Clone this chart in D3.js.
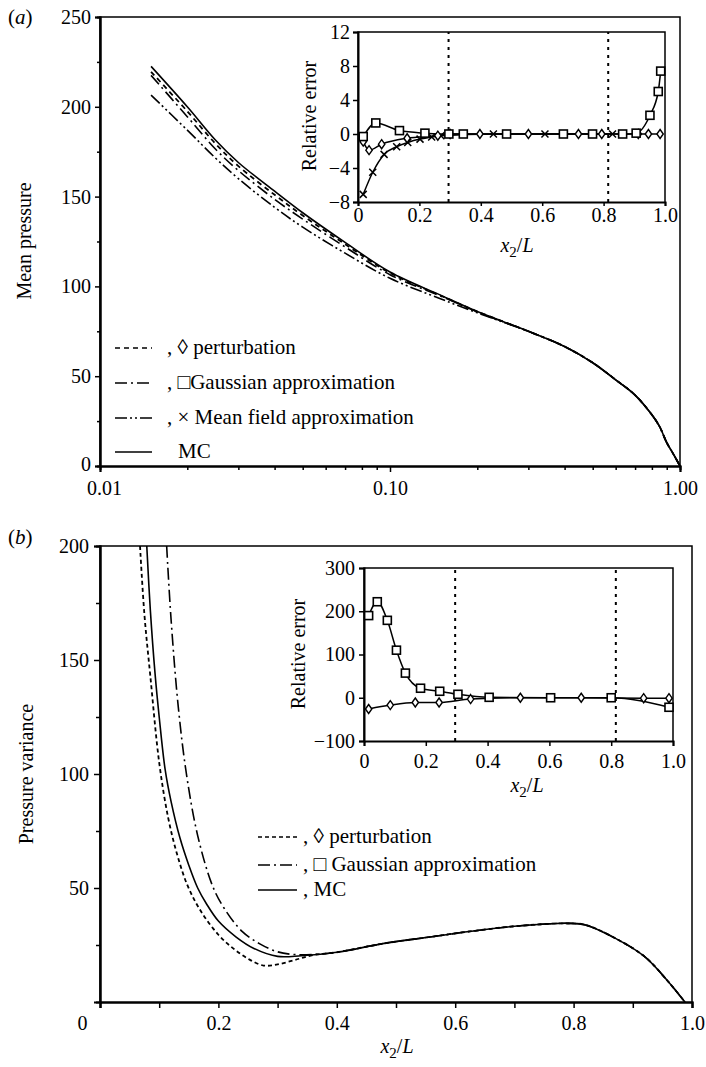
<!DOCTYPE html>
<html><head><meta charset="utf-8">
<script src="https://cdn.jsdelivr.net/npm/d3@7"></script>
<style>
body{margin:0;background:#fff}
</style></head><body>
<svg id="c" width="706" height="1067" font-family="Liberation Serif" style="font-family:'Liberation Serif'"></svg>
<script>
// ---------- Panel (a): mean pressure vs x2/L (log axis) ----------
const mcA    = [[0.015,222.5],[0.02,200],[0.025,181.5],[0.03,169],[0.04,153],[0.05,141],[0.07,124.5],[0.1,108],[0.15,95],[0.2,86],[0.3,75],[0.4,66.5],[0.5,57.5],[0.6,48],[0.7,39.5],[0.8,28.5],[0.85,22],[0.9,13],[0.95,6.5],[1.0,0]];
const pertA  = [[0.015,219.5],[0.02,197.5],[0.025,179.5],[0.03,167],[0.04,151],[0.05,139.5],[0.07,123.5],[0.1,107.5],[0.15,94.8],[0.2,86],[0.3,75],[0.4,66.5],[0.5,57.5],[0.6,48],[0.7,39.5],[0.8,28.5],[0.85,22],[0.9,13],[0.95,6.5],[1.0,0]];
const gaussA = [[0.015,217.5],[0.02,194.5],[0.025,176.5],[0.03,164.5],[0.04,148.5],[0.05,137.5],[0.07,122],[0.1,106.5],[0.15,94.5],[0.2,85.8],[0.3,75],[0.4,66.5],[0.5,57.5],[0.6,48],[0.7,39.5],[0.8,28.5],[0.85,22],[0.9,13],[0.95,6.5],[1.0,0]];
const mfA    = [[0.015,206.5],[0.02,187],[0.025,171.5],[0.03,160],[0.04,144],[0.05,133],[0.07,118.5],[0.1,104.5],[0.15,93],[0.2,85.3],[0.3,75],[0.4,66.5],[0.5,57.5],[0.6,48],[0.7,39.5],[0.8,28.5],[0.85,22],[0.9,13],[0.95,6.5],[1.0,0]];
const xTicksA = [0.01,0.1,1];
const xTickLabelsA = ["0.01","0.10","1.00"];
const yTicksA = [0,50,100,150,200,250];
const yMinorA = [25,75,125,175,225];

// inset (a): relative error
const gaussErrA = [[0.017,-0.3],[0.058,1.3],[0.135,0.4],[0.218,0.1],[0.296,0],[0.343,0],[0.484,0],[0.669,0],[0.764,0],[0.862,0],[0.906,0.1],[0.951,2.2],[0.978,5.0],[0.986,7.4]];
const pertErrA  = [[0.017,-0.9],[0.036,-1.9],[0.077,-1.2],[0.16,-0.5],[0.26,-0.2],[0.3,0],[0.397,0],[0.555,0],[0.718,0],[0.794,0],[0.913,0],[0.946,0],[0.984,0]];
const mfErrA    = [[0.017,-7.1],[0.048,-4.5],[0.085,-2.4],[0.126,-1.5],[0.162,-1.0],[0.202,-0.6],[0.24,-0.35],[0.27,-0.2],[0.441,0],[0.609,0],[0.829,0]];
const yTicksAi = [-8,-4,0,4,8,12];
const xTicksInset = [0,0.2,0.4,0.6,0.8,1.0];
const xTickLabelsInset = ["0","0.2","0.4","0.6","0.8","1.0"];
const dottedX = [0.295,0.815];

// ---------- Panel (b): pressure variance ----------
const mcB    = [[0.079,200],[0.085,172],[0.093,144],[0.1,125],[0.11,102],[0.12,88],[0.135,72],[0.15,60],[0.165,50],[0.18,43],[0.2,35.5],[0.23,28.5],[0.26,23.5],[0.3,20],[0.34,20.3],[0.4,21.8],[0.48,25.7],[0.56,28.6],[0.62,30.8],[0.7,33.2],[0.79,34.5],[0.82,33.8],[0.87,28],[0.92,19.9],[0.96,8.9],[0.988,0]];
const pertB  = [[0.0676,200],[0.075,170],[0.085,143],[0.1,105],[0.115,81],[0.13,65],[0.148,51],[0.17,40],[0.2,29.5],[0.225,23.5],[0.25,19],[0.276,16],[0.3,16.5],[0.33,18.5],[0.36,20.6],[0.4,21.8],[0.48,25.7],[0.56,28.6],[0.62,30.8],[0.7,33.2],[0.79,34.5],[0.82,33.8],[0.87,28],[0.92,19.9],[0.96,8.9],[0.988,0]];
const gaussB = [[0.1126,200],[0.12,168],[0.132,130],[0.146,100],[0.165,73],[0.19,51],[0.21,41],[0.24,31],[0.27,25.5],[0.3,22],[0.33,20.8],[0.37,21],[0.4,21.8],[0.48,25.7],[0.56,28.6],[0.62,30.8],[0.7,33.2],[0.79,34.5],[0.82,33.8],[0.87,28],[0.92,19.9],[0.96,8.9],[0.988,0]];
const xTicksB = [0,0.2,0.4,0.6,0.8,1.0];
const xTickLabelsB = ["0","0.2","0.4","0.6","0.8","1.0"];
const xMinorB = [0.1,0.3,0.5,0.7,0.9];
const yTicksB = [50,100,150,200];
const yMinorB = [25,75,125,175];

// inset (b)
const gaussErrB = [[0.015,190],[0.043,222],[0.0755,179],[0.105,110],[0.134,57],[0.183,22],[0.245,15],[0.304,8],[0.405,1],[0.604,0],[0.8,0],[0.987,-22]];
const pertErrB  = [[0.015,-26],[0.085,-17],[0.166,-11],[0.243,-11],[0.345,-3],[0.506,0],[0.703,0],[0.905,-1],[0.987,-1]];
const yTicksBi = [-100,0,100,200,300];

const legendA = [
  {dash:"5,4", text:", \u25CA perturbation", x:167},
  {dash:"12,4,2,4", text:", \u25A1Gaussian approximation", x:167},
  {dash:"12,3,2,3,2,3", text:", \u00D7 Mean field approximation", x:167},
  {dash:null, text:"MC", x:178}
];
const legendB = [
  {dash:"4,3", text:", \u25CA perturbation"},
  {dash:"12,4,2,4", text:", \u25A1 Gaussian approximation"},
  {dash:null, text:", MC"}
];

// ---------- drawing ----------
const FONT = "'Liberation Serif','Times New Roman','DejaVu Serif',serif";
const svg = d3.select("#c");
svg.append("rect").attr("width",706).attr("height",1067).attr("fill","#fff");
const FS = 20;

function txt(sel){ return sel.attr("font-family",FONT).attr("fill","#000"); }
function styleAxis(g, sw){
  g.attr("font-family",FONT).attr("font-size",FS);
  g.select(".domain").attr("stroke","#000").attr("stroke-width",sw||2);
  g.selectAll(".tick line").attr("stroke","#000").attr("stroke-width",1.5);
  g.selectAll(".tick text").attr("fill","#000").attr("font-family",FONT);
}
function frame(x0,y0,x1,y1,sw){
  svg.append("path").attr("d",`M${x0},${y1}V${y0}H${x1}V${y1}`).attr("fill","none").attr("stroke","#000").attr("stroke-width",sw);
}
function xLabel(cx, y){
  const t = txt(svg.append("text")).attr("x",cx).attr("y",y).attr("text-anchor","middle").attr("font-size",FS);
  t.append("tspan").attr("font-style","italic").text("x");
  t.append("tspan").attr("font-size",15).attr("dy",5).text("2");
  t.append("tspan").attr("dy",-5).text("/");
  t.append("tspan").attr("font-style","italic").text("L");
}
function yLabel(x, cy, s){
  txt(svg.append("text")).attr("transform",`translate(${x},${cy}) rotate(-90)`).attr("text-anchor","middle").attr("font-size",FS).text(s);
}
function addLine(g, data, xs, ys, dash, w, curve){
  g.append("path").datum(data)
    .attr("d", d3.line().x(d=>xs(d[0])).y(d=>ys(d[1])).curve(curve||d3.curveMonotoneX))
    .attr("fill","none").attr("stroke","#000").attr("stroke-width",w)
    .attr("stroke-dasharray",dash);
}
function markers(g, data, xs, ys, type){
  const s = g.selectAll(null).data(data).enter();
  if(type==="square"){
    s.append("rect").attr("x",d=>xs(d[0])-4).attr("y",d=>ys(d[1])-4).attr("width",8).attr("height",8)
      .attr("fill","#fff").attr("stroke","#000").attr("stroke-width",1.6);
  } else if(type==="diamond"){
    s.append("path").attr("d",d=>{const x=xs(d[0]),y=ys(d[1]);return `M${x},${y-4.5}L${x+3.2},${y}L${x},${y+4.5}L${x-3.2},${y}Z`;})
      .attr("fill","#fff").attr("stroke","#000").attr("stroke-width",1.4);
  } else {
    s.append("path").attr("d",d=>{const x=xs(d[0]),y=ys(d[1]);return `M${x-3.5},${y-3.5}L${x+3.5},${y+3.5}M${x-3.5},${y+3.5}L${x+3.5},${y-3.5}`;})
      .attr("fill","none").attr("stroke","#000").attr("stroke-width",1.5);
  }
}

// ===== Panel (a) =====
const xA = d3.scaleLog().domain([0.01,1]).range([100,680]);
const yA = d3.scaleLinear().domain([0,250]).range([466,17]);
frame(100,17,680,466,1.5);
const minorXA = [];
[0.01,0.1].forEach(b=>{for(let k=2;k<=9;k++) minorXA.push(b*k);});
let g = svg.append("g").attr("transform","translate(0,466)")
  .call(d3.axisBottom(xA).tickValues(minorXA).tickSize(4).tickFormat(""));
styleAxis(g);
g = svg.append("g").attr("transform","translate(0,466)")
  .call(d3.axisBottom(xA).tickValues(xTicksA).tickSize(6).tickPadding(9).tickFormat((d,i)=>xTickLabelsA[i]));
styleAxis(g);
g.selectAll(".tick text").filter(d=>d===0.01).attr("dx",4);
g = svg.append("g").attr("transform","translate(100,0)")
  .call(d3.axisLeft(yA).tickValues(yMinorA).tickSize(3).tickFormat(""));
styleAxis(g);
g = svg.append("g").attr("transform","translate(100,0)")
  .call(d3.axisLeft(yA).tickValues(yTicksA).tickSize(5).tickPadding(4));
styleAxis(g);
g.selectAll(".tick text").filter(d=>d===0).attr("dy","0.2em");
yLabel(31,241,"Mean pressure");

const pA = svg.append("g");
const cA = d3.curveCatmullRom;
addLine(pA, mfA, xA, yA, "12,3,2,3,2,3", 1.6, cA);
addLine(pA, gaussA, xA, yA, "12,4,2,4", 1.6, cA);
addLine(pA, pertA, xA, yA, "5,4", 1.8, cA);
addLine(pA, mcA, xA, yA, null, 1.6, cA);

// legend (a)
const legYA = [348,383,418,452];
legendA.forEach((L,i)=>{
  svg.append("line").attr("x1",115).attr("x2",152).attr("y1",legYA[i]).attr("y2",legYA[i])
    .attr("stroke","#000").attr("stroke-width",1.6).attr("stroke-dasharray",L.dash);
  txt(svg.append("text")).attr("x",L.x).attr("y",legYA[i]+6).attr("font-size",FS+1).text(L.text);
});

// inset (a)
const xAi = d3.scaleLinear().domain([0,1]).range([358,665]);
const yAi = d3.scaleLinear().domain([-8,12]).range([202,32]);
svg.append("rect").attr("x",358).attr("y",32).attr("width",307).attr("height",170).attr("fill","#fff");
frame(358,32,665,202,1.5);
dottedX.forEach(v=>svg.append("line").attr("x1",xAi(v)).attr("x2",xAi(v)).attr("y1",202).attr("y2",32)
  .attr("stroke","#000").attr("stroke-width",2).attr("stroke-dasharray","3,5"));
g = svg.append("g").attr("transform","translate(0,202)")
  .call(d3.axisBottom(xAi).tickValues(xTicksInset).tickSize(4).tickPadding(2).tickFormat((d,i)=>xTickLabelsInset[i]));
styleAxis(g);
g = svg.append("g").attr("transform","translate(358,0)")
  .call(d3.axisLeft(yAi).tickValues(yTicksAi).tickSize(5).tickPadding(3).tickFormat(d=>d<0?"\u2212"+Math.abs(d):d));
styleAxis(g);
yLabel(316,116,"Relative error");
xLabel(517,252);
const iA = svg.append("g");
addLine(iA, mfErrA, xAi, yAi, null, 1.5);
addLine(iA, pertErrA, xAi, yAi, null, 1.5);
addLine(iA, gaussErrA, xAi, yAi, null, 1.5);
markers(iA, mfErrA, xAi, yAi, "cross");
markers(iA, pertErrA, xAi, yAi, "diamond");
markers(iA, gaussErrA, xAi, yAi, "square");

// panel tag (a)
const ta = txt(svg.append("text")).attr("x",8).attr("y",24).attr("font-size",FS+1);
ta.append("tspan").text("(");ta.append("tspan").attr("font-style","italic").text("a");ta.append("tspan").text(")");

// ===== Panel (b) =====
const xB = d3.scaleLinear().domain([0,1]).range([100,692]);
const yB = d3.scaleLinear().domain([0,200]).range([1002,546]);
frame(100,546,692,1002,1.5);
g = svg.append("g").attr("transform","translate(0,1002)")
  .call(d3.axisBottom(xB).tickValues(xMinorB).tickSize(6).tickFormat(""));
styleAxis(g);
g = svg.append("g").attr("transform","translate(0,1002)")
  .call(d3.axisBottom(xB).tickValues(xTicksB).tickSize(6).tickPadding(8).tickFormat((d,i)=>xTickLabelsB[i]));
styleAxis(g);
g.selectAll(".tick text").filter(d=>d===0).attr("dx",-18);
g = svg.append("g").attr("transform","translate(100,0)")
  .call(d3.axisLeft(yB).tickValues(yMinorB).tickSize(4).tickFormat(""));
styleAxis(g);
g = svg.append("g").attr("transform","translate(100,0)")
  .call(d3.axisLeft(yB).tickValues(yTicksB).tickSize(6).tickPadding(5));
styleAxis(g);
yLabel(33,774,"Pressure variance");
xLabel(397,1053);

svg.append("clipPath").attr("id","clipB").append("rect").attr("x",100).attr("y",546).attr("width",592).attr("height",456);
const pB = svg.append("g").attr("clip-path","url(#clipB)");
const cB = d3.curveCatmullRom;
addLine(pB, pertB, xB, yB, "4,3", 1.8, cB);
addLine(pB, gaussB, xB, yB, "12,4,2,4", 1.6, cB);
addLine(pB, mcB, xB, yB, null, 1.6, cB);

// legend (b)
const legYB = [837,865,890];
legendB.forEach((L,i)=>{
  svg.append("line").attr("x1",258).attr("x2",297).attr("y1",legYB[i]).attr("y2",legYB[i])
    .attr("stroke","#000").attr("stroke-width",1.6).attr("stroke-dasharray",L.dash);
  txt(svg.append("text")).attr("x",303).attr("y",legYB[i]+6).attr("font-size",FS+1).text(L.text);
});

// inset (b)
const xBi = d3.scaleLinear().domain([0,1]).range([364,673]);
const yBi = d3.scaleLinear().domain([-100,300]).range([741,568]);
svg.append("rect").attr("x",364).attr("y",568).attr("width",309).attr("height",173).attr("fill","#fff");
frame(364,568,673,741,1.5);
dottedX.forEach(v=>svg.append("line").attr("x1",xBi(v)).attr("x2",xBi(v)).attr("y1",741).attr("y2",568)
  .attr("stroke","#000").attr("stroke-width",2).attr("stroke-dasharray","3,5"));
g = svg.append("g").attr("transform","translate(0,741)")
  .call(d3.axisBottom(xBi).tickValues(xTicksInset).tickSize(5).tickPadding(8).tickFormat((d,i)=>xTickLabelsInset[i]));
styleAxis(g);
g = svg.append("g").attr("transform","translate(364,0)")
  .call(d3.axisLeft(yBi).tickValues(yTicksBi).tickSize(5).tickPadding(4).tickFormat(d=>d<0?"\u2212"+Math.abs(d):d));
styleAxis(g);
yLabel(305,654,"Relative error");
xLabel(527,792);
const iB = svg.append("g");
addLine(iB, pertErrB, xBi, yBi, null, 1.5);
addLine(iB, gaussErrB, xBi, yBi, null, 1.5);
markers(iB, pertErrB, xBi, yBi, "diamond");
markers(iB, gaussErrB, xBi, yBi, "square");

const tb = txt(svg.append("text")).attr("x",8).attr("y",544).attr("font-size",FS+1);
tb.append("tspan").text("(");tb.append("tspan").attr("font-style","italic").text("b");tb.append("tspan").text(")");
</script></body></html>
